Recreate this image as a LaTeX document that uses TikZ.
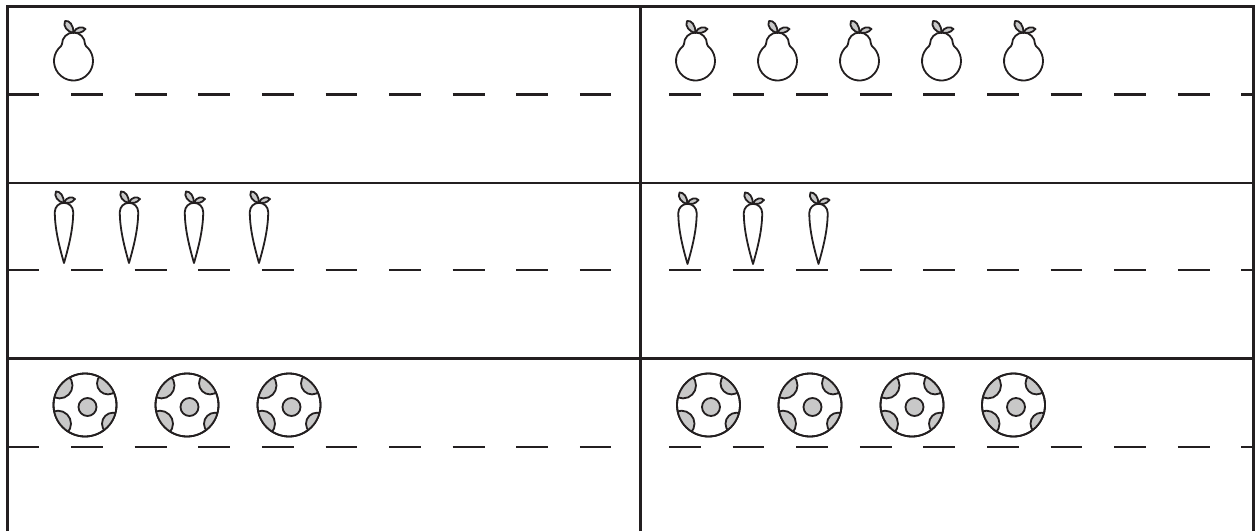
\documentclass[tikz,border=0pt]{standalone}
\definecolor{inkline}{RGB}{35,31,32}
\definecolor{leafgray}{RGB}{200,200,200}
\tikzset{
    frameline/.style={draw=inkline, line width=2.6pt},
    guideline/.style={draw=inkline, line width=2.2pt, dash pattern=on 31.8pt off 31.8pt},
    outline/.style={draw=inkline, line width=1.8pt, line join=round},
    pear/.pic={
        \path[outline, fill=white] (140:19.5) arc[start angle=140, end angle=400, radius=19.5]
            .. controls (13,14) and (11.5,15.5) .. (11.5,17) arc[start angle=0, end angle=180, radius=11.5]
            .. controls (-11.5,15.5) and (-13,14) .. cycle;
        \path[outline, fill=leafgray] (0,28) .. controls (0,36) and (-4,41) .. (-8.5,40)
            .. controls (-11,35) and (-6,29) .. cycle;
        \path[outline, fill=leafgray] (0,29) .. controls (3,34) and (9,35) .. (12,32)
            .. controls (9,28) and (3,27) .. cycle;
    },
    carrot/.pic={
        \path[outline, fill=white] (0,0) .. controls (-4,14) and (-9.2,33) .. (-9.2,51)
            arc[start angle=180, end angle=0, radius=9.2]
            .. controls (9.2,33) and (4,14) .. cycle;
        \path[outline, fill=leafgray] (0,60) .. controls (0,67) and (-4,72) .. (-8,71.5)
            .. controls (-10.5,67) and (-6,61) .. cycle;
        \path[outline, fill=leafgray] (0,61) .. controls (3,66) and (8,67) .. (11,64)
            .. controls (8,60) and (3,59) .. cycle;
    },
    ball/.pic={
        \path[outline, fill=white] (0,0) circle[radius=31.5];
        \begin{scope}
            \clip (0,0) circle[radius=31.5];
            \path[outline, fill=leafgray] (-25.5,19.6) circle[radius=13] (23,21.6) circle[radius=11]
                (-27,-18.7) circle[radius=13] (28,-18.7) circle[radius=11];
        \end{scope}
        \path[outline] (0,0) circle[radius=31.5];
        \path[outline, fill=leafgray] (2.5,-2) circle[radius=9];
    },
}
\begin{document}
\begin{tikzpicture}[x=1pt, y=1pt]
    \useasboundingbox (0,0) rectangle (1257,531);
    \draw[frameline] (7.5,0) -- (7.5,524.5) -- (1253.5,524.5) -- (1253.5,0);
    \draw[frameline] (640.5,0) -- (640.5,524.5);
    \draw[frameline] (7.5,348) -- (1253.5,348);
    \draw[frameline] (7.5,172.5) -- (1253.5,172.5);
    \draw[guideline] (7.5,436.5) -- (610.5,436.5);
    \draw[guideline] (669,436.5) -- (1253.5,436.5);
    \draw[guideline] (7.5,261) -- (610.5,261);
    \draw[guideline] (669,261) -- (1253.5,261);
    \draw[guideline] (7.5,84) -- (610.5,84);
    \draw[guideline] (669,84) -- (1253.5,84);
    \pic at (73.5,470) {pear};
    \pic at (695.5,470) {pear};
    \pic at (777.5,470) {pear};
    \pic at (859.5,470) {pear};
    \pic at (941.5,470) {pear};
    \pic at (1023.5,470) {pear};
    \pic at (64,268) {carrot};
    \pic at (129,268) {carrot};
    \pic at (194,268) {carrot};
    \pic at (259,268) {carrot};
    \pic at (687.5,267) {carrot};
    \pic at (753,267) {carrot};
    \pic at (818.5,267) {carrot};
    \pic at (85,126) {ball};
    \pic at (187,126) {ball};
    \pic at (289,126) {ball};
    \pic at (708.5,126) {ball};
    \pic at (810,126) {ball};
    \pic at (912,126) {ball};
    \pic at (1013.5,126) {ball};
\end{tikzpicture}
\end{document}
